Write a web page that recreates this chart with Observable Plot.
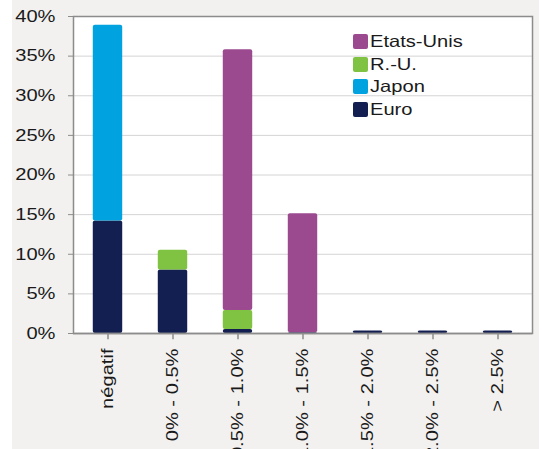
<!DOCTYPE html>
<html>
<head>
<meta charset="utf-8">
<script src="https://cdn.jsdelivr.net/npm/d3@7"></script>
<script src="https://cdn.jsdelivr.net/npm/@observablehq/plot@0.6"></script>
<style>
  html, body { margin: 0; padding: 0; background: #ffffff; }
  #wrap { position: relative; width: 547px; height: 449px; overflow: hidden; font-family: "Liberation Sans", Arial, sans-serif; }
  #bg { position: absolute; left: 12px; top: 0; width: 527px; height: 449px; background: #f2f1ef; }
  #chart { position: absolute; left: 0; top: 0; }
  #legend { position: absolute; left: 353px; top: 30px; font-size: 16.5px; color: #1a1a1a; }
  #legend .row { display: flex; align-items: center; height: 22.7px; }
  #legend .sw { width: 15px; height: 15px; border-radius: 2px; margin-right: 2px; flex: none; }
  #legend span { display: inline-block; transform: scaleX(1.22); transform-origin: left center; white-space: nowrap; }
</style>
</head>
<body>
<div id="wrap">
  <div id="bg"></div>
  <div id="chart"></div>
  <div id="legend"></div>
</div>
<script>
const categories = ["négatif", "0% - 0.5%", "0.5% - 1.0%", "1.0% - 1.5%", "1.5% - 2.0%", "2.0% - 2.5%", "> 2.5%"];
const seriesNames = ["Euro", "Japon", "R.-U.", "Etats-Unis"];
const euro   = [14.2, 8.0, 0.5, 0.1, 0.3, 0.3, 0.3];
const japon  = [24.7, 0, 0, 0, 0, 0, 0];
const ru     = [0, 2.5, 2.4, 0, 0, 0, 0];
const us     = [0, 0, 32.9, 15.0, 0, 0, 0];
const colors = ["#121f50", "#00a3e0", "#80c241", "#9c4a90"];
const yTicks = [0, 5, 10, 15, 20, 25, 30, 35, 40];
const legendOrder = ["Etats-Unis", "R.-U.", "Japon", "Euro"];

const seriesValues = [euro, japon, ru, us];
const data = [];
seriesNames.forEach((s, si) => {
  categories.forEach((c, ci) => {
    const v = seriesValues[si][ci];
    if (v > 0) data.push({category: c, series: s, value: v});
  });
});

const W = 547, H = 449;
const mL = 73, mR = 15, mT = 16, mB = 116;
const step = (W - mL - mR) / categories.length;
const barW = 30;
const inset = (step - barW) / 2;
const STRETCH = 1.22;

const boundaries = categories.map((c) => ({c, side: -1})).concat([{c: categories[categories.length - 1], side: 1}]);

const plot = Plot.plot({
  width: W,
  height: H,
  marginLeft: mL,
  marginRight: mR,
  marginTop: mT,
  marginBottom: mB,
  style: {background: "transparent", fontFamily: "'Liberation Sans', Arial, sans-serif", fontSize: "16.5px", color: "#1a1a1a"},
  x: {domain: categories, padding: 0, label: null},
  y: {domain: [0, 40], ticks: yTicks, label: null},
  color: {domain: seriesNames, range: colors},
  marks: [
    Plot.frame({fill: "white", stroke: "none"}),
    Plot.gridY(yTicks.slice(1, -1), {stroke: "#d4d4d4", strokeOpacity: 1, strokeWidth: 1}),
    Plot.barY(data, Plot.stackY({
      x: "category", y: "value", fill: "series",
      order: seriesNames,
      insetLeft: inset, insetRight: inset, insetTop: 0, insetBottom: 0, rx: 2
    })),
    Plot.frame({stroke: "#8c8c8c", strokeWidth: 1.5}),
    Plot.ruleX(boundaries, {x: "c", y1: 0, y2: -0.8, stroke: "#8c8c8c", strokeWidth: 1.5,
      render: (index, scales, values, dims, context, next) => {
        const g = next(index, scales, values, dims, context);
        d3.select(g).selectAll("line").each(function(_, i) {
          const b = boundaries[index[i]];
          const x = scales.x(b.c) + (b.side < 0 ? 0 : step);
          this.setAttribute("x1", x); this.setAttribute("x2", x);
        });
        return g;
      }
    }),
    Plot.axisY({ticks: yTicks, tickFormat: (d) => d + "%", tickSize: 5, tickPadding: 13, stroke: "#8c8c8c", fontSize: 16.5}),
    Plot.axisX({tickSize: 0, tickRotate: -90, tickPadding: 15, fontSize: 16.5}),
    Plot.ruleY([0], {stroke: "#8c8c8c", strokeWidth: 1.5})
  ]
});
document.getElementById("chart").appendChild(plot);

// Reference text is horizontally stretched: scale text along its own direction around its anchor
d3.select(plot).selectAll("g[aria-label='y-axis tick label'] text, g[aria-label='x-axis tick label'] text").each(function() {
  const t = this.getAttribute("transform") || "";
  const x = +this.getAttribute("x") || 0, y = +this.getAttribute("y") || 0;
  this.setAttribute("transform", `${t} translate(${x},${y}) scale(${STRETCH},1) translate(${-x},${-y})`);
});

const legend = document.getElementById("legend");
legendOrder.forEach((name) => {
  const row = document.createElement("div");
  row.className = "row";
  const sw = document.createElement("div");
  sw.className = "sw";
  sw.style.background = colors[seriesNames.indexOf(name)];
  const t = document.createElement("span");
  t.textContent = name;
  row.appendChild(sw);
  row.appendChild(t);
  legend.appendChild(row);
});
</script>
</body>
</html>
